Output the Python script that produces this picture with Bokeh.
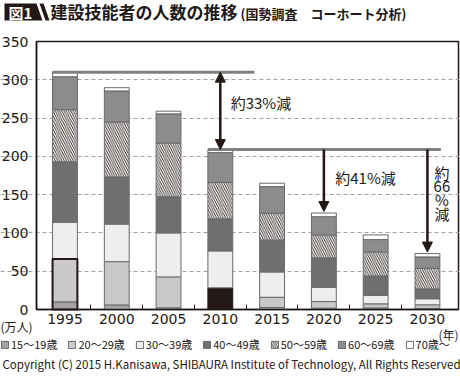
import numpy as np
from bokeh.plotting import figure
from bokeh.models import (ColumnDataSource, FixedTicker, Label, Arrow, NormalHead,
                          Legend, LegendItem, PolyAnnotation)
from bokeh.embed import file_html
from bokeh.resources import INLINE

# ---------------- data (万人) ----------------
years = [1995, 2000, 2005, 2010, 2015, 2020, 2025, 2030]
age_groups = ["15〜19歳", "20〜29歳", "30〜39歳", "40〜49歳", "50〜59歳", "60〜69歳", "70歳〜"]
a15_19 = [10.0, 6.0, 2.2, 3.0, 2.6, 1.7, 2.0, 1.5]
a20_29 = [56.0, 56.5, 40.4, 25.3, 13.4, 8.7, 5.4, 4.6]
a30_39 = [48.0, 49.0, 57.4, 48.2, 33.0, 18.6, 10.9, 7.9]
a40_49 = [79.0, 61.7, 47.3, 42.0, 41.8, 38.4, 25.6, 13.0]
a50_59 = [68.0, 71.7, 70.0, 47.4, 35.0, 30.0, 31.3, 26.8]
a60_69 = [43.0, 40.5, 38.2, 39.0, 34.7, 23.8, 16.1, 14.9]
a70_up = [6.0, 4.3, 3.5, 4.0, 4.4, 4.8, 6.1, 4.3]
y_ticks = [0, 50, 100, 150, 200, 250, 300, 350]
title_main = "建設技能者の人数の推移"
title_sub = "(国勢調査　コーホート分析)"
notes = ["約33%減", "約41%減", "約\n66\n%\n減"]
copyright_text = "Copyright (C) 2015 H.Kanisawa, SHIBAURA Institute of Technology, All Rights Reserved"

series = [a15_19, a20_29, a30_39, a40_49, a50_59, a60_69, a70_up]
colors = ["#a3a3a3", "#c9c9c9", "#eeeeee", "#6f6f6f", "#ffffff", "#8c8c8c", "#ffffff"]

# ---------------- layout constants ----------------
W, H = 460, 377
FL, FR, FT, FB = 36, 458, 41, 309          # plot box in canvas pixels
XR = (1992.25, 2033.0)                      # data extent of the plot box
YR = (0, 350)
BAR_W = 2.4
JP = "Noto Sans CJK JP"
NUM = "DejaVu Sans"
INK = "#231815"


def px_x(px):
    return XR[0] + (px - FL) * (XR[1] - XR[0]) / (FR - FL)


def px_y(py):
    return YR[0] + (FB - py) * (YR[1] - YR[0]) / (FB - FT)


arr = np.array(series)
tops = np.cumsum(arr, axis=0)
bots = tops - arr
totals = tops[-1]
n = len(years)
i2010 = years.index(2010)

data = dict(year=years)
for k in range(len(series)):
    data[f"b{k}"] = bots[k].tolist()
    data[f"t{k}"] = tops[k].tolist()
    fc = [colors[k]] * n
    lc = ["#6a6a6a"] * n
    if k in (0, 1):
        fc[i2010] = INK
        lc[i2010] = INK
    data[f"c{k}"] = fc
    data[f"l{k}"] = lc
source = ColumnDataSource(data)

# frame covers the whole canvas; axes are pinned at the plot box edges
p = figure(width=W, height=H, x_range=(px_x(0), px_x(W)), y_range=(px_y(H), px_y(0)),
           output_backend="svg", toolbar_location=None, min_border=0,
           background_fill_color="white", border_fill_color="white")
p.outline_line_color = None

p.xgrid.visible = False
p.ygrid.ticker = FixedTicker(ticks=y_ticks[1:-1])
p.ygrid.bounds = XR
p.ygrid.grid_line_color = "#a0a0a0"
p.ygrid.grid_line_dash = "4 3"
p.ygrid.grid_line_width = 1

p.xaxis.fixed_location = YR[0]
p.yaxis.fixed_location = XR[0]
p.yaxis.ticker = FixedTicker(ticks=y_ticks)
p.xaxis.ticker = FixedTicker(ticks=years,
                             minor_ticks=[(a + b) / 2 for a, b in zip(years[:-1], years[1:])])
p.xaxis.bounds = XR
p.yaxis.bounds = YR
for ax in (p.xaxis[0], p.yaxis[0]):
    ax.axis_line_color = INK
    ax.axis_line_width = 1.5
    ax.major_tick_in = 0
    ax.major_tick_out = 0
    ax.major_label_text_font = NUM
    ax.major_label_text_font_size = "14px"
    ax.major_label_text_color = INK
p.yaxis.minor_tick_line_color = None
p.yaxis.major_label_standoff = 8
p.xaxis.major_label_standoff = 4
p.xaxis.minor_tick_in = 5
p.xaxis.minor_tick_out = 0
p.xaxis.minor_tick_line_color = INK
p.xaxis.minor_tick_line_width = 1

# plot box (top and right edges)
p.quad(left=[XR[0]], right=[XR[1]], bottom=[YR[0]], top=[YR[1]], fill_color=None,
       line_color=INK, line_width=1.5, level="underlay")

renderers = []
for k in range(len(series)):
    kw = {}
    if k == 4:
        kw = dict(hatch_pattern="\\", hatch_color=INK, hatch_scale=4.5, hatch_weight=0.9)
    r = p.vbar(x="year", bottom=f"b{k}", top=f"t{k}", width=BAR_W, source=source,
               fill_color=f"c{k}", line_color=f"l{k}", line_width=1, **kw)
    renderers.append(r)

# highlight of 1995 young workers (15-29)
p.vbar(x=[years[0]], bottom=[0], top=[a15_19[0] + a20_29[0]], width=BAR_W,
       fill_alpha=0, line_color=INK, line_width=2)

# reference lines at 1995 and 2010 totals
p.segment(x0=[years[0] - BAR_W / 2], y0=[totals[0]], x1=[years[i2010] + 3.3], y1=[totals[0]],
          line_color="#808080", line_width=3)
p.segment(x0=[years[i2010] - BAR_W / 2], y0=[totals[i2010]], x1=[years[-1] + BAR_W / 2 + 0.1],
          y1=[totals[i2010]], line_color="#808080", line_width=3)

# arrows
p.add_layout(Arrow(x_start=years[i2010], y_start=totals[0], x_end=years[i2010], y_end=totals[i2010],
                   start=NormalHead(size=10, fill_color=INK, line_color=INK),
                   end=NormalHead(size=10, fill_color=INK, line_color=INK),
                   line_color=INK, line_width=2.5))
for yr in (2020, 2030):
    j = years.index(yr)
    p.add_layout(Arrow(x_start=yr, y_start=totals[i2010], x_end=yr, y_end=totals[j] + 2,
                       end=NormalHead(size=10, fill_color=INK, line_color=INK),
                       line_color=INK, line_width=2.5))

p.add_layout(Label(x=years[i2010] + 1.0, y=270, text=notes[0], text_font=JP,
                   text_font_size="15px", text_baseline="middle", text_color=INK))
p.add_layout(Label(x=2021.1, y=172, text=notes[1], text_font=JP,
                   text_font_size="15px", text_baseline="middle", text_color=INK))
p.add_layout(Label(x=2031.4, y=px_y(161), text=notes[2], text_font=JP, text_font_size="15px",
                   text_align="center", text_baseline="top", text_line_height=0.66,
                   text_color=INK))

# axis unit labels
p.add_layout(Label(x=px_x(0), y=px_y(326), text="(万人)", text_font=JP, text_font_size="12px",
                   text_baseline="middle", text_color=INK))
p.add_layout(Label(x=px_x(458), y=px_y(334), text="(年)", text_font=JP, text_font_size="12px",
                   text_baseline="middle", text_align="right", text_color=INK))

# title block
p.add_layout(PolyAnnotation(xs=[px_x(4), px_x(36), px_x(42), px_x(4)],
                            ys=[px_y(3), px_y(3), px_y(20), px_y(20)],
                            fill_color=INK, fill_alpha=1, line_color=None))
p.add_layout(PolyAnnotation(xs=[px_x(39), px_x(43), px_x(49), px_x(45)],
                            ys=[px_y(3), px_y(3), px_y(20), px_y(20)],
                            fill_color=INK, fill_alpha=1, line_color=None))
p.add_layout(Label(x=px_x(8), y=px_y(11.5), text="図1", text_font=JP, text_font_size="15px",
                   text_font_style="bold", text_color="white", text_baseline="middle"))
p.add_layout(Label(x=px_x(50), y=px_y(11), text=title_main, text_font=JP, text_font_size="17px",
                   text_font_style="bold", text_color=INK, text_baseline="middle"))
p.add_layout(Label(x=px_x(240), y=px_y(12.5), text=title_sub, text_font=JP, text_font_size="13px",
                   text_font_style="bold", text_color=INK, text_baseline="middle"))

# legend
legend = Legend(items=[LegendItem(label=lab, renderers=[r]) for lab, r in zip(age_groups, renderers)],
                orientation="horizontal", location=(0, H - 352),
                glyph_width=9, glyph_height=9, label_standoff=2, spacing=10, padding=0, margin=0,
                label_text_font=JP, label_text_font_size="11px", label_text_color=INK,
                label_height=12, border_line_color=None, background_fill_alpha=0)
p.add_layout(legend, "center")

p.add_layout(Label(x=px_x(2), y=px_y(363), text=copyright_text, text_font=JP,
                   text_font_size="11.5px", text_baseline="middle", text_color=INK))

open("out.html", "w").write(file_html(p, INLINE))
